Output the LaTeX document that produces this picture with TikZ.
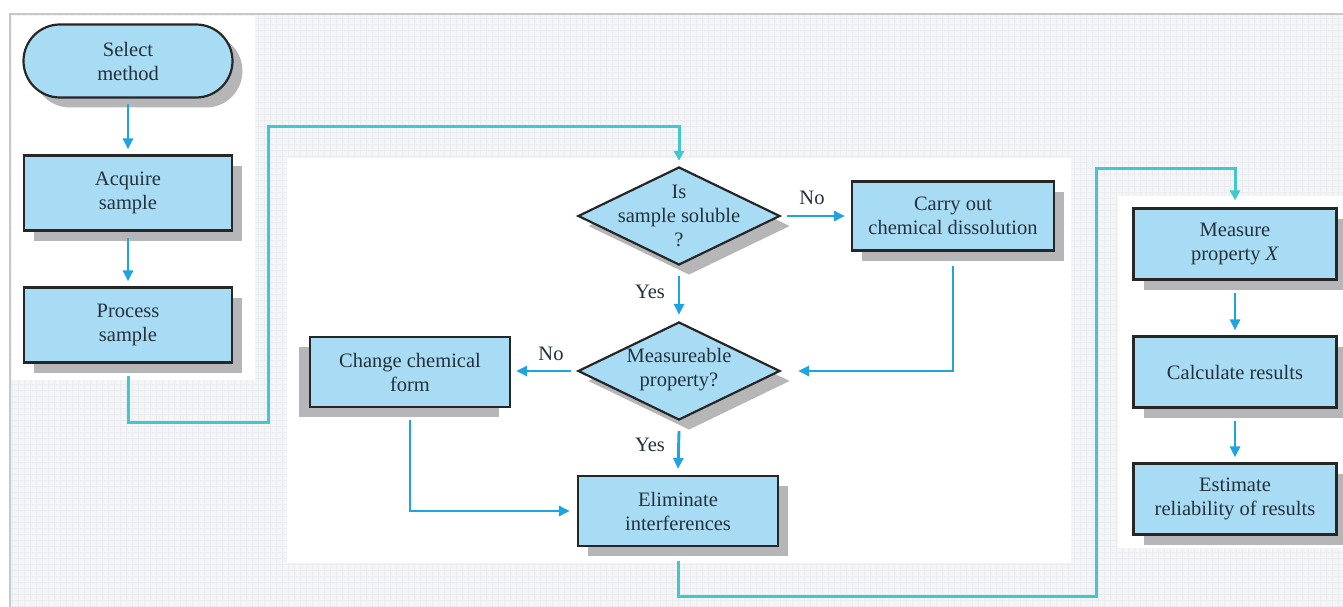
\documentclass[tikz,border=0pt]{standalone}
\usepackage{fontspec}
\setmainfont{Liberation Serif}
\usetikzlibrary{shapes.geometric,shapes.misc,arrows.meta,shadows}
\definecolor{boxfill}{RGB}{168,220,245}
\definecolor{txt}{RGB}{36,48,58}
\definecolor{arr}{RGB}{30,165,225}
\definecolor{conn}{RGB}{64,200,205}
\definecolor{shad}{RGB}{182,182,184}
\definecolor{bg}{RGB}{244,245,247}
\definecolor{gridc}{RGB}{234,236,240}
\definecolor{framec}{RGB}{200,200,202}
\begin{document}
\begin{tikzpicture}[x=1pt,y=-1pt,
  shadowr/.style={drop shadow={shadow xshift=10pt,shadow yshift=-10pt,fill=shad,opacity=1}},
  shadowl/.style={drop shadow={shadow xshift=-11pt,shadow yshift=-10pt,fill=shad,opacity=1}},
  base/.style={draw=black!85, line width=2.2pt, fill=boxfill, text=txt, align=center,
    font=\fontsize{20.5}{24}\selectfont, inner sep=0pt},
  box/.style={base, rectangle, shadowr, minimum width=203pt, minimum height=71pt},
  boxl/.style={base, rectangle, shadowl, minimum width=200pt, minimum height=70pt},
  term/.style={base, rounded rectangle, shadowr, minimum width=209pt, minimum height=73pt},
  dia/.style={base, diamond, shadowr, minimum width=202pt, minimum height=98pt, aspect=2.06},
  dtext/.style={text=txt, align=center, font=\fontsize{20.5}{24}\selectfont, inner sep=0pt},
  lab/.style={text=txt, font=\fontsize{20.5}{24}\selectfont, inner sep=0pt},
  arrow/.style={draw=arr, line width=2.9pt, -{Triangle[length=11pt,width=10pt]}},
  conn/.style={draw=conn, line width=3pt, -{Triangle[length=10pt,width=10pt]}},
]
\useasboundingbox (0,0) rectangle (1343,607);
% background
\fill[white] (0,0) rectangle (1343,607);
\fill[bg] (10,14) rectangle (1343,607);
\draw[gridc, line width=0.4pt, step=6pt] (10,14) grid (1343,607);
\draw[framec, line width=1.4pt] (10,607) -- (10,14) -- (1343,14);
\fill[white] (12,16) rectangle (255,380);
\fill[white] (287,158) rectangle (1071,563);
\fill[white] (1118,196) rectangle (1343,548);

% nodes
\node[term] (sel) at (128,61) {Select\\method};
\node[box, minimum width=208pt, minimum height=75pt] (acq) at (128,193) {Acquire\\sample};
\node[box, minimum width=208pt, minimum height=75pt] (proc) at (128,325) {Process\\sample};
\node[dia] (d1) at (679,216) {};
\node[dtext] (d1t) at (d1.center) {Is\\sample soluble\\?};
\node[box, minimum width=202pt, minimum height=69pt] (carry) at (953,216) {Carry out\\chemical dissolution};
\node[dia] (d2) at (679,371) {};
\node[dtext] (d2t) at ([yshift=1pt]d2.center) {Measureable\\property?};
\node[boxl] (chg) at (410,372) {Change chemical\\form};
\node[box, minimum width=200pt, minimum height=70pt] (elim) at (678,511) {Eliminate\\interferences};
\node[box] (meas) at (1235,244) {Measure\\property \textit{X}};
\node[box] (calc) at (1235,372) {Calculate results};
\node[box] (est) at (1235,499) {Estimate\\reliability of results};

% labels
\node[lab] (no1) at (812,198) {No};
\node[lab] (yes1) at (650,292) {Yes};
\node[lab] (no2) at (551,354) {No};
\node[lab] (yes2) at (650,445) {Yes};

% helper coordinates
\coordinate (c1) at (268,422);
\coordinate (c2) at (268,127);
\coordinate (c3) at (1096,596);
\coordinate (c4) at (1096,168);

% short arrows
\draw[arrow] ([yshift=-5pt]sel.south) -- ([yshift=5pt]acq.north);
\draw[arrow] ([yshift=-6pt]acq.south) -- ([yshift=5pt]proc.north);
\draw[arrow] ([xshift=6pt]d1.east) -- ([xshift=-6pt]carry.west);
\draw[arrow] ([yshift=-10pt]d1.south) -- ([yshift=6pt]d2.north);
\draw[arrow] ([yshift=-14pt]carry.south) |- ([xshift=17pt]d2.east);
\draw[arrow] ([xshift=-6pt]d2.west) -- ([xshift=5pt]d2.west -| chg.east);
\draw[arrow] ([yshift=-10pt]d2.south) -- ([yshift=6pt]elim.north);
\draw[arrow] ([yshift=-12pt]chg.south) |- ([xshift=-7pt]elim.west);
\draw[arrow] ([yshift=-12pt]meas.south) -- ([yshift=5pt]calc.north);
\draw[arrow] ([yshift=-12pt]calc.south) -- ([yshift=5pt]est.north);

% long connectors
\draw[conn] ([yshift=-12pt]proc.south) |- (c1) -- (c2) -| ([yshift=5pt]d1.north);
\draw[conn] ([yshift=-14pt]elim.south) |- (c3) -- (c4) -| ([yshift=7pt]meas.north);
\end{tikzpicture}
\end{document}
